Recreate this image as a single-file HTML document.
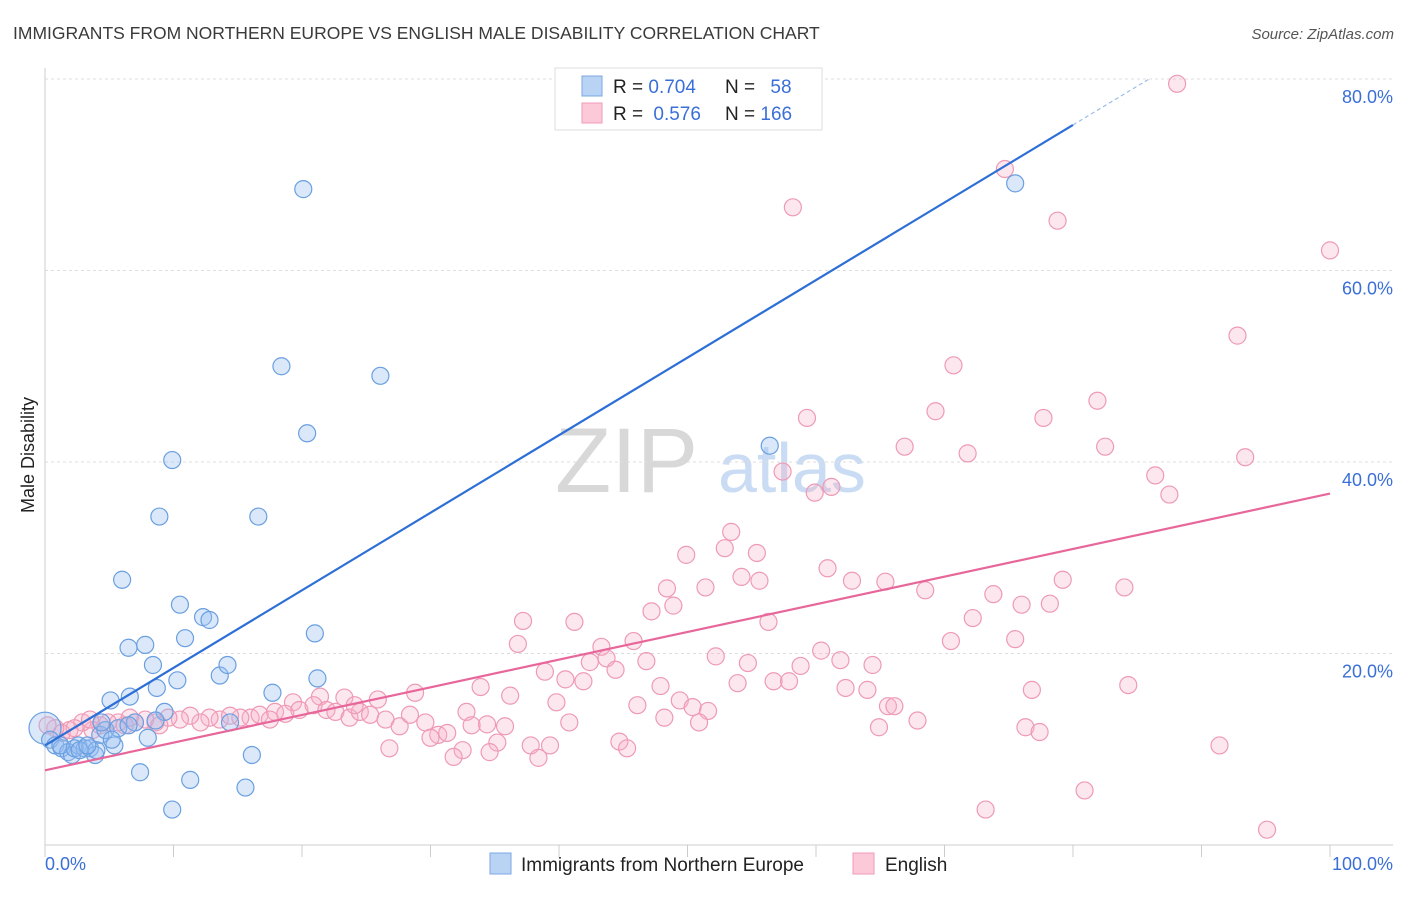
<!DOCTYPE html>
<html><head><meta charset="utf-8"><style>
body{margin:0;background:#fff;font-family:"Liberation Sans",sans-serif}
svg text{font-family:"Liberation Sans",sans-serif}
</style></head><body>
<svg id="chart" width="1406" height="892" viewBox="0 0 1406 892" xmlns="http://www.w3.org/2000/svg">
<text x="13" y="39" font-size="17.5" fill="#3a3a3a">IMMIGRANTS FROM NORTHERN EUROPE VS ENGLISH MALE DISABILITY CORRELATION CHART</text>
<text x="1394" y="39" font-size="15" fill="#555" font-style="italic" text-anchor="end">Source: ZipAtlas.com</text>
<g>
<text x="555" y="492" font-size="92" fill="#d8d8d8" font-family="Liberation Serif,serif">ZIP</text>
<text x="718" y="492" font-size="70" fill="#c9dcf3">atlas</text>
</g>
<g id="grid"></g>
<g id="axes"></g>
<g id="pink"></g>
<g id="blue"></g>
<g id="lines"></g>
<text transform="translate(34,455) rotate(-90)" font-size="18" fill="#222" text-anchor="middle">Male Disability</text>
<g>
<rect x="555" y="68" width="267" height="62" fill="#fff" stroke="#ddd"/>
<rect x="582" y="76" width="20" height="20" fill="#b9d3f5" stroke="#7aa7e3"/>
<rect x="582" y="103" width="20" height="20" fill="#fbc9d8" stroke="#ef9ab7"/>
<text x="613" y="93" font-size="19" fill="#222">R = <tspan fill="#3a6fd8">0.704</tspan></text>
<text x="725" y="93" font-size="19" fill="#222">N = <tspan fill="#3a6fd8" dx="10">58</tspan></text>
<text x="613" y="120" font-size="19" fill="#222">R = <tspan fill="#3a6fd8" dx="5">0.576</tspan></text>
<text x="725" y="120" font-size="19" fill="#222">N = <tspan fill="#3a6fd8">166</tspan></text>
</g>
<g>
<rect x="490" y="853" width="21" height="21" fill="#b9d3f5" stroke="#7aa7e3"/>
<text x="521" y="871" font-size="19" fill="#222">Immigrants from Northern Europe</text>
<rect x="853" y="853" width="21" height="21" fill="#fbc9d8" stroke="#ef9ab7"/>
<text x="885" y="871" font-size="19" fill="#222">English</text>
</g>
</svg>
<script>
const yTicks=[20,40,60,80];
const yTickLabels=["20.0%","40.0%","60.0%","80.0%"];
const xTicks=[0,10,20,30,40,50,60,70,80,90,100];
const blueX=[0,0.4,0.8,1.3,1.8,2.1,2.6,3.1,3.5,3.9,4.3,4.7,5.1,5.4,6.0,6.5,6.6,7.0,7.8,8.0,8.4,8.7,8.9,9.3,9.9,10.3,10.5,10.9,11.3,9.9,12.3,12.8,13.6,14.2,14.4,15.6,16.1,16.6,17.7,18.4,20.1,20.4,21.0,21.2,26.1,56.4,75.5,7.4,5.7,1.2,2.3,4.4,6.5,4.0,2.7,3.3,5.2,8.6];
const blueY=[12.2,11.0,10.4,10.1,9.7,9.4,10.4,10.1,10.1,9.4,11.5,12.0,15.1,10.4,27.7,20.6,15.5,12.8,20.9,11.2,18.8,16.4,34.3,13.9,40.2,17.2,25.1,21.6,6.8,3.7,23.8,23.5,17.7,18.8,12.8,6.0,9.4,34.3,15.9,50.0,68.5,43.0,22.1,17.4,49.0,41.7,69.1,7.6,12.2,10.4,10.1,12.8,12.5,9.9,9.9,10.4,11.0,13.0];
const pinkX=[88.1,74.7,58.2,78.8,100,92.8,70.7,69.3,59.3,81.9,77.7,66.9,82.5,71.8,93.4,57.4,61.2,59.9,86.4,87.5,53.4,49.9,52.9,55.4,54.2,55.6,48.4,51.4,60.9,62.8,65.4,68.5,79.2,84.0,73.8,76.0,78.2,37.2,41.2,48.9,47.2,56.3,72.2,75.5,70.5,45.8,43.3,36.8,42.4,43.7,38.9,40.5,41.9,44.4,46.8,52.2,54.7,60.4,61.9,64.4,58.8,56.7,57.9,53.9,47.9,62.3,64.0,33.9,76.8,84.3,36.2,28.8,39.8,49.4,50.4,51.6,46.1,65.6,66.1,25.9,21.4,23.3,19.3,17.9,16.0,16.7,15.2,13.6,12.8,12.1,11.3,10.5,9.6,8.6,7.8,7.0,6.2,5.7,4.9,4.3,3.7,2.9,1.9,1.3,0.8,0.2,18.7,19.8,20.9,21.9,22.6,23.7,24.5,25.3,26.5,27.6,28.4,29.6,30.6,31.3,30.0,32.8,33.2,34.4,35.8,35.2,37.8,39.3,32.5,31.8,26.8,34.6,38.4,40.8,44.7,45.3,50.9,48.2,64.9,67.9,76.3,77.4,91.4,80.9,73.2,95.1,2.3,3.5,6.6,8.9,14.4,17.5,24.1];
const pinkY=[79.5,70.6,66.6,65.2,62.1,53.2,50.1,45.3,44.6,46.4,44.6,41.6,41.6,40.9,40.5,39.0,37.4,36.8,38.6,36.6,32.7,30.3,31.0,30.5,28.0,27.6,26.8,26.9,28.9,27.6,27.5,26.6,27.7,26.9,26.2,25.1,25.2,23.4,23.3,25.0,24.4,23.3,23.7,21.5,21.3,21.3,20.7,21.0,19.1,19.5,18.1,17.3,17.1,18.3,19.2,19.7,19.0,20.3,19.3,18.8,18.7,17.1,17.1,16.9,16.6,16.4,16.2,16.5,16.2,16.7,15.6,15.9,14.9,15.1,14.4,14.0,14.6,14.5,14.5,15.2,15.5,15.4,14.9,13.9,13.3,13.6,13.3,13.1,13.3,12.8,13.5,13.1,13.3,12.8,13.1,12.8,12.5,12.8,12.8,12.5,12.0,12.8,12.0,11.7,12.2,12.5,13.7,14.1,14.6,14.1,13.9,13.3,13.9,13.6,13.1,12.4,13.6,12.8,11.5,11.7,11.2,13.9,12.5,12.6,12.4,10.7,10.4,10.4,9.9,9.2,10.1,9.7,9.1,12.8,10.8,10.1,12.8,13.3,12.3,13.0,12.3,11.8,10.4,5.7,3.7,1.6,12.2,13.1,13.3,12.5,13.5,13.1,14.6];
const blueTrend=[10.4,75.2];   // y at x=0 and x=80
const pinkTrend=[7.8,36.7];    // y at x=0 and x=100

const NS="http://www.w3.org/2000/svg";
const X=v=>45+v*12.85;
const Y=v=>845-v*9.575;
function mk(tag,attrs,parent){const e=document.createElementNS(NS,tag);for(const k in attrs)e.setAttribute(k,attrs[k]);document.getElementById(parent).appendChild(e);return e;}

yTicks.forEach((t,i)=>{
  const l=mk('line',{x1:45,x2:1393,y1:Y(t),y2:Y(t),stroke:'#ddd','stroke-dasharray':'3,3'},'grid');
  
  
  const tx=mk('text',{x:1393,y:Y(t)+24,'font-size':18,fill:'#3a6fd8','text-anchor':'end'},'grid');
  tx.textContent=yTickLabels[i];
  
  
});
mk('line',{x1:45,x2:45,y1:68,y2:845,stroke:'#ccc'},'axes');
mk('line',{x1:45,x2:1393,y1:845,y2:845,stroke:'#ccc'},'axes');
xTicks.forEach(t=>{
  const l=mk('line',{x1:X(t),x2:X(t),y1:845,y2:857,stroke:'#ccc'},'axes');
  
  
});
const x0=mk('text',{x:45,y:870,'font-size':18,fill:'#3a6fd8'},'axes');x0.textContent='0.0%';


const x1=mk('text',{x:1393,y:870,'font-size':18,fill:'#3a6fd8','text-anchor':'end'},'axes');x1.textContent='100.0%';



pinkX.forEach((v,i)=>{
  const c=mk('circle',{cx:X(v),cy:Y(pinkY[i]),r:8.5,fill:'rgba(248,175,198,0.3)',stroke:'#ee9ab6','stroke-width':1.2},'pink');
  
  
});
blueX.forEach((v,i)=>{
  const c=mk('circle',{cx:X(v),cy:Y(blueY[i]),r:i===0?16:8.5,fill:'rgba(150,190,240,0.35)',stroke:'#6a9fe0','stroke-width':1.2},'blue');
  
  
});
const bs=(blueTrend[1]-blueTrend[0])/80;
let l=mk('line',{x1:X(0),y1:Y(blueTrend[0]),x2:X(80),y2:Y(blueTrend[1]),stroke:'#2d6fd6','stroke-width':2.2},'lines');


l=mk('line',{x1:X(80),y1:Y(blueTrend[1]),x2:X(86),y2:Y(blueTrend[0]+bs*86),stroke:'#9bbde8','stroke-width':1.2,'stroke-dasharray':'4,3'},'lines');


l=mk('line',{x1:X(0),y1:Y(pinkTrend[0]),x2:X(100),y2:Y(pinkTrend[1]),stroke:'#e8679a','stroke-width':2.2},'lines');


</script>
</body></html>
